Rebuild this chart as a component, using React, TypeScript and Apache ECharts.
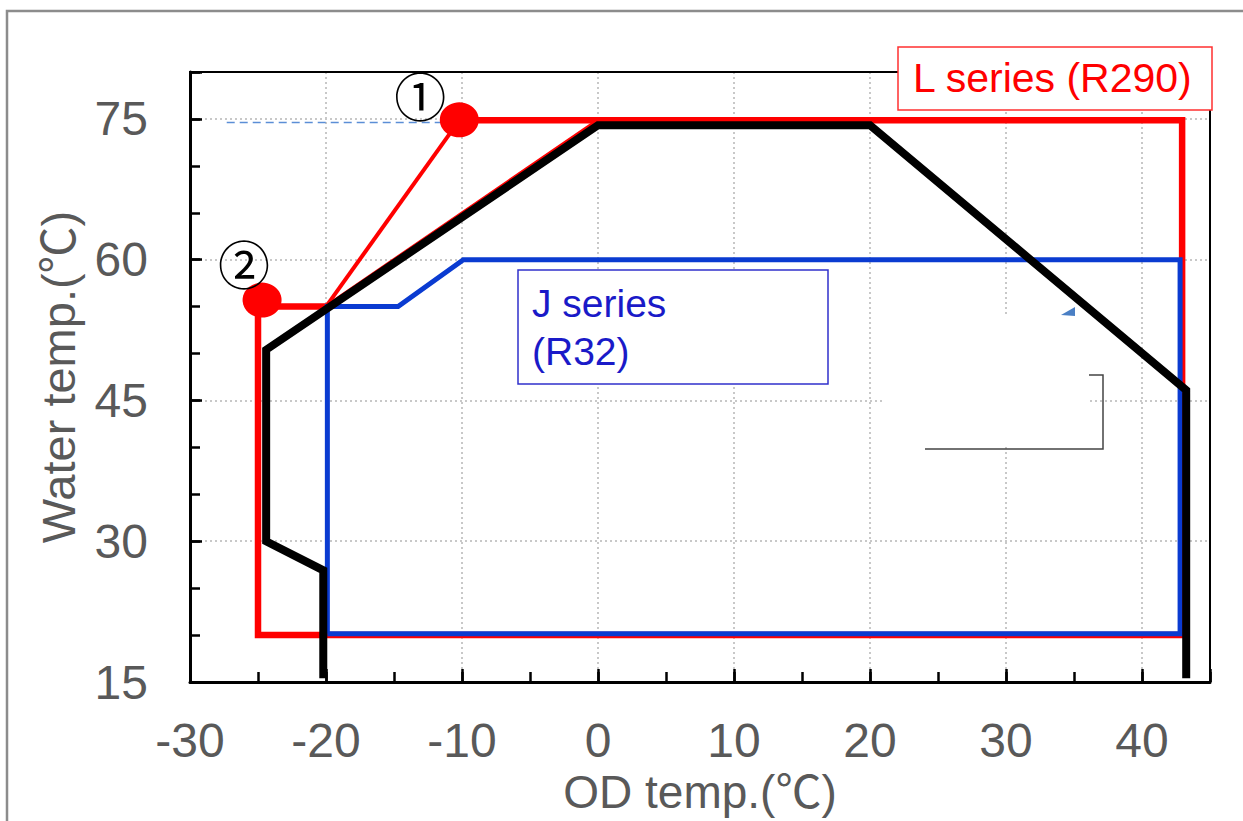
import React, { useEffect, useRef } from 'react';
import * as echarts from 'echarts';

// Axis ranges / ticks
const xRange = [-30, 45];
const yRange = [15, 80];
const xMajor = 10;
const xMinor = 5;
const yMajor = 15;
const yMinor = 5;

// L series (R290) operating envelope (red)
const lOutline: [number, number][] = [
  [-10.2, 74.85], [42.95, 74.85], [42.95, 20], [-25, 20], [-25, 55], [-20, 55],
];
const lDiagToPoint1: [number, number][] = [[-20, 55], [-10.2, 74.85]];
const lDiagToZero: [number, number][] = [[-20, 55], [0, 74.85]];

// J series (R32) envelope (blue)
const jOutline: [number, number][] = [
  [-19.9, 20.15], [-19.9, 55], [-14.7, 55], [-9.9, 60], [42.8, 60], [42.8, 20.15], [-19.9, 20.15],
];

// Black envelope
const blackOutline: [number, number][] = [
  [-20.2, 15.4], [-20.2, 26.9], [-24.4, 30], [-24.4, 50.4], [0, 74.32], [20, 74.32], [43.25, 46.1], [43.25, 15.4],
];

// Thin dashed reference line at 75
const dashRef: [number, number][] = [[-27.3, 74.62], [-10.2, 74.62]];

// Marked points
const point1: [number, number] = [-10.2, 74.9];
const point2: [number, number] = [-24.7, 55.7];
const pointLabels = ['①', '②'];

const FONT = "'Liberation Sans', Arial, 'Noto Sans CJK JP', sans-serif";
const GREY = '#595959';

export default function App() {
  const ref = useRef<HTMLDivElement>(null);

  useEffect(() => {
    document.body.style.margin = '0';
    const chart = echarts.init(ref.current!, null, { renderer: 'svg' });

    const lineSeries = (data: [number, number][], color: string, width: number, extra: any = {}) => ({
      type: 'line',
      data,
      symbol: 'none',
      showSymbol: false,
      silent: true,
      lineStyle: { color, width, cap: 'butt', join: 'miter', ...(extra.lineStyle || {}) },
      z: extra.z ?? 2,
    });

    const gridLeft = 190, gridTop = 72, gridW = 1020, gridH = 610;

    const option: any = {
      animation: false,
      backgroundColor: '#ffffff',
      grid: {
        left: gridLeft, top: gridTop, width: gridW, height: gridH,
        show: false,
      },
      xAxis: [
        {
          type: 'value', min: xRange[0], max: xRange[1], interval: xMajor, position: 'bottom',
          name: 'OD temp.(℃)', nameLocation: 'middle', nameGap: 82,
          nameTextStyle: { fontSize: 46, color: GREY, fontFamily: FONT },
          axisLine: { show: true, onZero: false, lineStyle: { color: '#000', width: 3 } },
          axisTick: { show: true, inside: true, length: 13, lineStyle: { color: '#000', width: 2.5 } },
          axisLabel: {
            show: true, margin: 34, fontSize: 48, color: GREY, fontFamily: FONT,
            formatter: (v: number) => (v > 40 ? '' : String(v)),
          },
          splitLine: { show: true, lineStyle: { color: '#c8c8c8', width: 2, type: [2, 3] } },
        },
        {
          type: 'value', min: xRange[0], max: xRange[1], interval: xMinor, position: 'bottom',
          axisLine: { show: false, onZero: false },
          axisTick: { show: true, inside: true, length: 10, lineStyle: { color: '#000', width: 2.5 } },
          axisLabel: { show: false },
          splitLine: { show: false },
        },
      ],
      yAxis: [
        {
          type: 'value', min: yRange[0], max: yRange[1], interval: yMajor, position: 'left',
          name: 'Water temp.(℃)', nameLocation: 'middle', nameGap: 108,
          nameTextStyle: { fontSize: 47, color: GREY, fontFamily: FONT },
          axisLine: { show: true, onZero: false, lineStyle: { color: '#000', width: 3 } },
          axisTick: { show: true, inside: true, length: 12, lineStyle: { color: '#000', width: 2.5 } },
          axisLabel: {
            show: true, margin: 42, fontSize: 48, color: GREY, fontFamily: FONT,
            formatter: (v: number) => (v > 75 ? '' : String(v)),
          },
          splitLine: { show: true, lineStyle: { color: '#c8c8c8', width: 2, type: [2, 3] } },
        },
        {
          type: 'value', min: yRange[0], max: yRange[1], interval: yMinor, position: 'left',
          axisLine: { show: false, onZero: false },
          axisTick: { show: true, inside: true, length: 10, lineStyle: { color: '#000', width: 2.5 } },
          axisLabel: { show: false },
          splitLine: { show: false },
        },
      ],
      series: [
        lineSeries(lOutline, '#ff0000', 6.5),
        lineSeries(lDiagToPoint1, '#ff0000', 4),
        lineSeries(lDiagToZero, '#ff0000', 4),
        lineSeries(jOutline, '#0a3bd1', 5),
        lineSeries(dashRef, '#5b8ed6', 1.5, { lineStyle: { type: [8, 5] } }),
        lineSeries(blackOutline, '#000000', 8),
        {
          type: 'scatter',
          silent: true,
          symbol: 'circle',
          symbolSize: [39, 35],
          itemStyle: { color: '#ff0000', opacity: 1 },
          label: {
            show: true, position: 'inside', fontSize: 52, color: '#000',
            fontFamily: "'Noto Sans CJK JP', 'DejaVu Sans', sans-serif",
            textBorderWidth: 0,
          },
          data: [
            { value: point1, label: { formatter: pointLabels[0], offset: [-39, -25] } },
            { value: point2, label: { formatter: pointLabels[1], offset: [-18, -38] } },
          ],
          z: 5,
        },
      ],
      graphic: [
        {
          type: 'rect', silent: true, z: 0,
          shape: { x: 7, y: 11, width: 1260, height: 840 },
          style: { fill: 'none', stroke: '#8c8c8c', lineWidth: 2.5 },
        },
        {
          type: 'rect', silent: true, z: 1,
          shape: { x: 882, y: 315, width: 208, height: 132 },
          style: { fill: '#ffffff' },
        },
        {
          type: 'rect', silent: true, z: 1,
          shape: { x: gridLeft, y: gridTop, width: gridW, height: gridH },
          style: { fill: 'none', stroke: '#000000', lineWidth: 2 },
        },
        {
          type: 'polyline', silent: true, z: 10,
          shape: { points: [[1089, 375], [1103, 375], [1103, 449], [925, 449]] },
          style: { fill: 'none', stroke: '#444444', lineWidth: 1.5 },
        },
        {
          type: 'polygon', silent: true, z: 10,
          shape: { points: [[1061, 315], [1075, 307], [1075, 316]] },
          style: { fill: '#4a7fc4' },
        },
        {
          type: 'group', z: 20, silent: true,
          children: [
            {
              type: 'rect', z: 20,
              shape: { x: 898, y: 47, width: 314, height: 63 },
              style: { fill: '#ffffff', stroke: '#ff3030', lineWidth: 1.5 },
            },
            {
              type: 'text', z: 21,
              style: {
                x: 913, y: 78, text: 'L series (R290)', fill: '#ff0000',
                font: `41px ${FONT}`, verticalAlign: 'middle', align: 'left',
              },
            },
            {
              type: 'rect', z: 20,
              shape: { x: 518, y: 270, width: 310, height: 114 },
              style: { fill: '#ffffff', stroke: '#3030cc', lineWidth: 1.5 },
            },
            {
              type: 'text', z: 21,
              style: {
                x: 532, y: 303, text: 'J series', fill: '#1a1ac8',
                font: `39px ${FONT}`, verticalAlign: 'middle', align: 'left',
              },
            },
            {
              type: 'text', z: 21,
              style: {
                x: 532, y: 351, text: '(R32)', fill: '#1a1ac8',
                font: `39px ${FONT}`, verticalAlign: 'middle', align: 'left',
              },
            },
          ],
        },
      ],
    };

    chart.setOption(option);
    return () => chart.dispose();
  }, []);

  return <div ref={ref} style={{ width: 1243, height: 821 }} />;
}
